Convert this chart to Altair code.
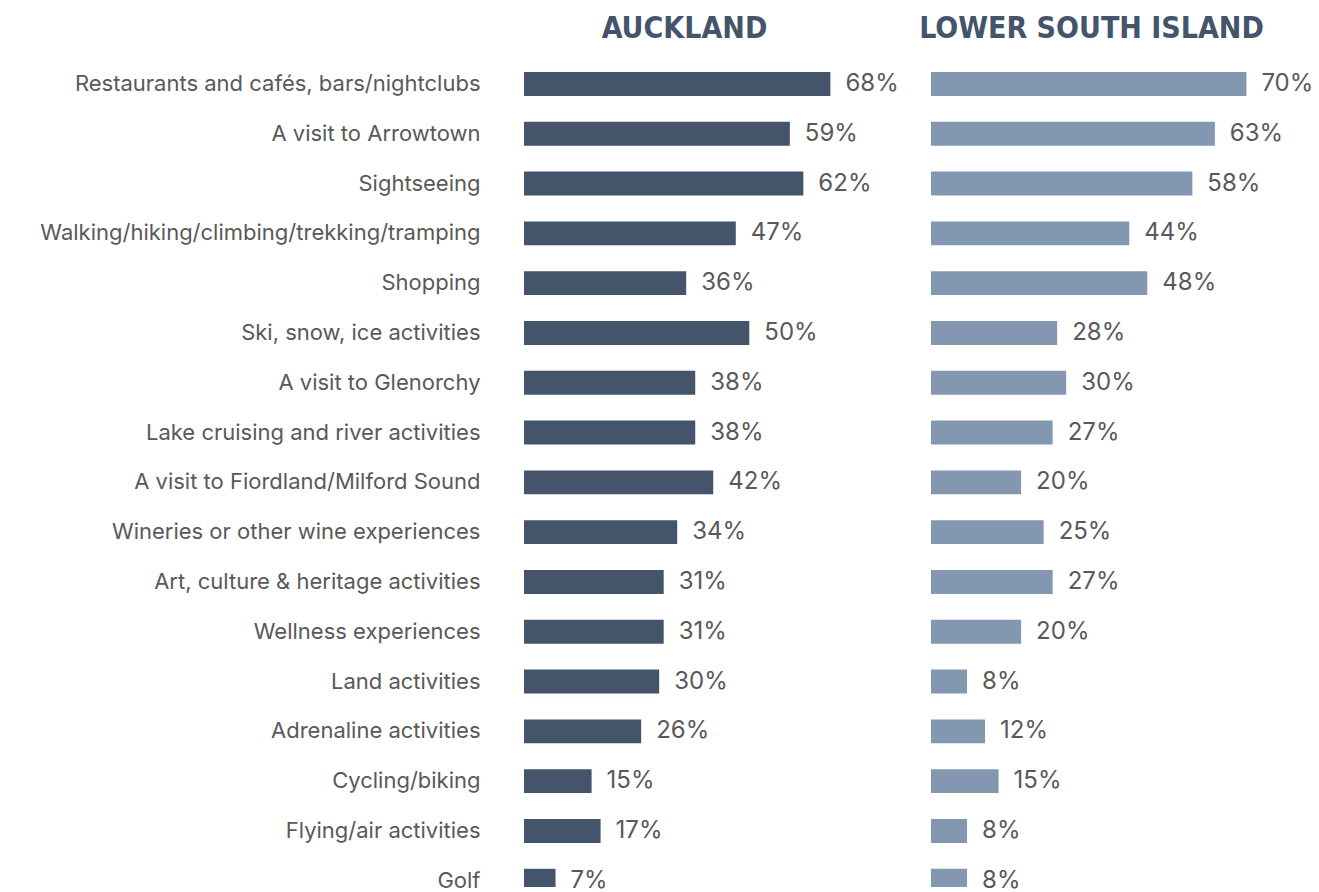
import altair as alt
import pandas as pd

categories = [
    "Restaurants and cafés, bars/nightclubs",
    "A visit to Arrowtown",
    "Sightseeing",
    "Walking/hiking/climbing/trekking/tramping",
    "Shopping",
    "Ski, snow, ice activities",
    "A visit to Glenorchy",
    "Lake cruising and river activities",
    "A visit to Fiordland/Milford Sound",
    "Wineries or other wine experiences",
    "Art, culture & heritage activities",
    "Wellness experiences",
    "Land activities",
    "Adrenaline activities",
    "Cycling/biking",
    "Flying/air activities",
    "Golf",
]
auckland = [68, 59, 62, 47, 36, 50, 38, 38, 42, 34, 31, 31, 30, 26, 15, 17, 7]
lower_south_island = [70, 63, 58, 44, 48, 28, 30, 27, 20, 25, 27, 20, 8, 12, 15, 8, 8]

df = pd.DataFrame({
    "Activity": categories,
    "Auckland": auckland,
    "LowerSouth": lower_south_island,
})

FONT = "Inter"
TITLE_FONT = "DejaVu Sans Condensed"
TEXT_COLOR = "#595959"


def panel(col, color, title, show_axis):
    if show_axis:
        yaxis = alt.Axis(
            title=None, ticks=False, domain=False, labelPadding=44,
            labelFont=FONT, labelFontSize=22, labelColor=TEXT_COLOR,
            labelLimit=700, minExtent=519, maxExtent=519,
        )
    else:
        yaxis = None
    base = alt.Chart(df).transform_calculate(
        label=f"datum['{col}'] + '%'"
    ).encode(
        y=alt.Y("Activity:N", sort=categories,
                scale=alt.Scale(paddingInner=0.52, paddingOuter=0,
                                range=[0, 820.7]),
                axis=yaxis),
        x=alt.X(f"{col}:Q", scale=alt.Scale(domain=[0, 85]), axis=None),
    )
    bars = base.mark_bar(color=color, clip=True)
    text = base.mark_text(
        align="left", baseline="middle", dx=15, font=FONT, fontSize=24,
        color=TEXT_COLOR,
    ).encode(text="label:N")
    return (bars + text).properties(
        width=383, height=815,
        title=alt.TitleParams(
            text=title, font=TITLE_FONT, fontSize=30, fontWeight="bold",
            color="#44546a", anchor="middle", dx=-31, offset=28,
        ),
    )


left = panel("Auckland", "#44546a", "AUCKLAND", True)
right = panel("LowerSouth", "#8497b0", "LOWER SOUTH ISLAND", False)

chart = alt.hconcat(left, right, spacing=12).properties(
    padding={"left": 5, "top": 13, "right": 0, "bottom": 0},
    background="white",
).configure_view(stroke=None)

chart.save("out.html", embed_options={"renderer": "svg", "actions": False})
